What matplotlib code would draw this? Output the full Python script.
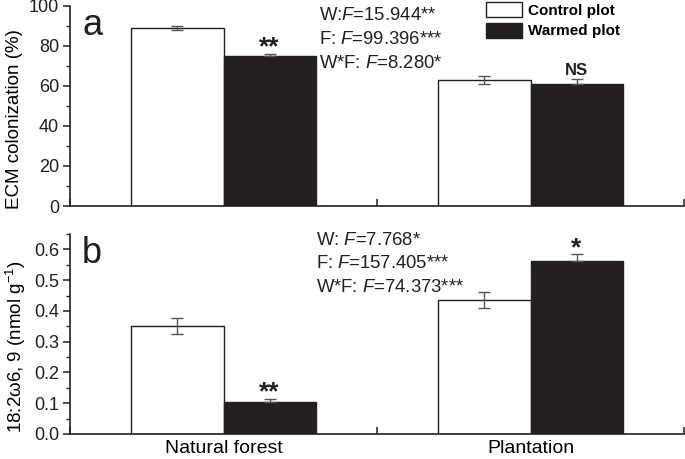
import matplotlib
matplotlib.use("Agg")
import matplotlib.pyplot as plt
from matplotlib.patches import Patch
from matplotlib.ticker import MultipleLocator, FixedLocator, NullFormatter, FixedFormatter, FormatStrFormatter

categories = ["Natural forest", "Plantation"]
ecm_control = [88.8, 63.2]
ecm_control_err = [1.0, 2.0]
ecm_warmed = [74.8, 61.0]
ecm_warmed_err = [1.2, 2.6]
pla_control = [0.351, 0.436]
pla_control_err = [0.025, 0.026]
pla_warmed = [0.105, 0.563]
pla_warmed_err = [0.009, 0.021]
sig_a = ["**", "NS"]
sig_b = ["**", "*"]
stats_a = [r"W:$\it{F}$=15.944**", r"F: $\it{F}$=99.396***", r"W*F: $\it{F}$=8.280*"]
stats_b = [r"W: $\it{F}$=7.768*", r"F: $\it{F}$=157.405***", r"W*F: $\it{F}$=74.373***"]

plt.rcParams['font.family'] = ['Liberation Sans', 'DejaVu Sans']
plt.rcParams['mathtext.fontset'] = 'custom'
plt.rcParams['mathtext.it'] = 'Liberation Sans:italic'
plt.rcParams['mathtext.rm'] = 'Liberation Sans'

W, H = 685, 459
fig = plt.figure(figsize=(W / 100, H / 100), dpi=100)
axa = fig.add_axes([70 / W, 1 - 206 / H, 614 / W, 200 / H])
axb = fig.add_axes([70 / W, 1 - 434 / H, 614 / W, 200 / H])

def px(x, y):
    return x / W, 1 - y / H

black = '#231f20'
ecol = '#555555'
w = 0.3
centers = [0.5, 1.5]

def draw(ax, ctrl, cerr, warm, werr, ylim, major, minor, sig):
    xc = [c - w / 2 for c in centers]
    xw = [c + w / 2 for c in centers]
    ax.bar(xc, ctrl, w, color='white', edgecolor=black, linewidth=1.0, zorder=2)
    ax.bar(xw, warm, w, color=black, edgecolor=black, linewidth=1.0, zorder=2)
    ax.errorbar(xc, ctrl, yerr=cerr, fmt='none', ecolor=ecol, elinewidth=1.0,
                capsize=4, capthick=1.0, zorder=3)
    ax.errorbar(xw, warm, yerr=[[0, 0], werr], fmt='none', ecolor=ecol, elinewidth=1.0,
                capsize=4, capthick=1.0, zorder=3)
    for x, v, e, s in zip(xw, warm, werr, sig):
        if s == 'NS':
            ax.annotate(s, xy=(x, v + e), xytext=(0, 3), textcoords='offset points',
                        ha='center', va='baseline', fontsize=12, fontweight='bold', color=black)
        else:
            ax.annotate(s, xy=(x, v + e), xytext=(0, -0.5), textcoords='offset points',
                        ha='center', va='baseline', fontsize=19, fontweight='bold', color=black)
    ax.set_xlim(0, 2)
    ax.set_ylim(*ylim)
    ax.spines['top'].set_visible(False)
    ax.spines['right'].set_visible(False)
    for s in ['left', 'bottom']:
        ax.spines[s].set_linewidth(1.2)
        ax.spines[s].set_color(black)
    ax.yaxis.set_major_locator(MultipleLocator(major))
    ax.yaxis.set_minor_locator(MultipleLocator(minor))
    ax.tick_params(axis='y', which='major', direction='out', length=5, width=1.1,
                   labelsize=13, pad=3, colors=black)
    ax.tick_params(axis='y', which='minor', direction='out', length=3, width=1.0, colors=black)
    ax.xaxis.set_major_locator(FixedLocator([0, 1, 2]))
    ax.xaxis.set_major_formatter(NullFormatter())
    ax.tick_params(axis='x', which='major', direction='in', length=5, width=1.1, colors=black)
    ax.xaxis.set_minor_locator(FixedLocator(centers))
    ax.tick_params(axis='x', which='minor', length=0, labelsize=14, pad=4)

draw(axa, ecm_control, ecm_control_err, ecm_warmed, ecm_warmed_err, (0, 100), 20, 10, sig_a)
axa.xaxis.set_minor_formatter(NullFormatter())
axa.set_ylabel("ECM colonization (%)", fontsize=13.5, labelpad=4)
axa.yaxis.label.set_y(0.435)

draw(axb, pla_control, pla_control_err, pla_warmed, pla_warmed_err, (0, 0.65), 0.1, 0.05, sig_b)
axb.xaxis.set_minor_formatter(FixedFormatter(categories))
axb.yaxis.set_major_formatter(FormatStrFormatter('%.1f'))
axb.set_ylabel(r"18:2ω6, 9 (nmol g$^{-1}$)", fontsize=13.5, labelpad=4)
axb.yaxis.label.set_y(0.435)

# panel letters
fig.text(*px(83, 35), 'a', fontsize=26, va='baseline', ha='left', color=black)
fig.text(*px(82, 263), 'b', fontsize=26, va='baseline', ha='left', color=black)

# statistics text
for t, yb in zip(stats_a, [19.5, 43.5, 67.5]):
    fig.text(*px(319, yb), t, fontsize=13.3, va='baseline', ha='left', color=black)
for t, yb in zip(stats_b, [245, 268.5, 292]):
    fig.text(*px(316, yb), t, fontsize=13.3, va='baseline', ha='left', color=black)

handles = [Patch(facecolor='white', edgecolor=black, linewidth=1.0, label='Control plot'),
           Patch(facecolor=black, edgecolor=black, linewidth=1.0, label='Warmed plot')]
leg = fig.legend(handles=handles, loc='upper left', bbox_to_anchor=px(486, 2), frameon=False,
                 prop={'weight': 'bold', 'size': 11}, handlelength=2.35, handleheight=1.1,
                 handletextpad=0.4, labelspacing=0.35, borderaxespad=0, borderpad=0)

fig.savefig("out.png", dpi=100)
